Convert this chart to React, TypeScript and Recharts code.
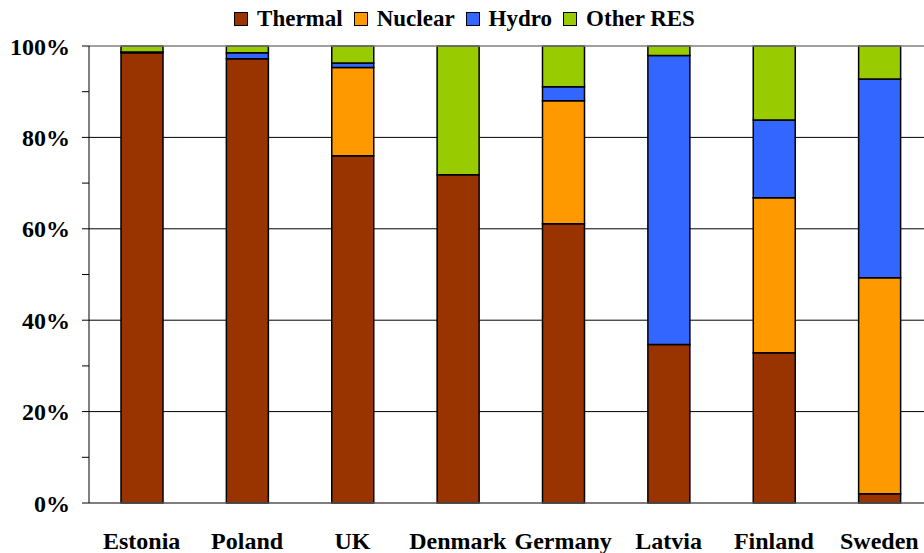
import React from "react";
import {
  BarChart,
  Bar,
  XAxis,
  YAxis,
  CartesianGrid,
  Legend,
  ReferenceLine,
} from "recharts";

const countries = ["Estonia", "Poland", "UK", "Denmark", "Germany", "Latvia", "Finland", "Sweden"];
const thermal = [98.5, 97.2, 76.0, 71.8, 61.1, 34.7, 32.9, 2.0];
const nuclear = [0, 0, 19.3, 0, 26.9, 0, 33.9, 47.3];
const hydro = [0.2, 1.3, 1.0, 0, 3.1, 63.2, 17.0, 43.5];
const otherRes = [1.3, 1.5, 3.7, 28.2, 8.9, 2.1, 16.2, 7.2];
const yTicks = [0, 10, 20, 30, 40, 50, 60, 70, 80, 90, 100];

const series = [
  { key: "thermal", name: "Thermal", color: "#993300" },
  { key: "nuclear", name: "Nuclear", color: "#FF9900" },
  { key: "hydro", name: "Hydro", color: "#3366FF" },
  { key: "other", name: "Other RES", color: "#99CC00" },
];

const data = countries.map((c, i) => ({
  country: c,
  thermal: thermal[i],
  nuclear: nuclear[i],
  hydro: hydro[i],
  other: otherRes[i],
}));

const font = "Liberation Serif, serif";

const renderLegend = () => (
  <div
    style={{
      height: 30,
      display: "flex",
      justifyContent: "center",
      alignItems: "center",
      fontFamily: font,
      fontWeight: "bold",
      fontSize: 23,
      color: "#000",
      paddingLeft: 8,
    }}
  >
    {series.map((s) => (
      <span key={s.key} style={{ display: "flex", alignItems: "center", marginRight: 11 }}>
        <span
          style={{
            display: "inline-block",
            width: 12,
            height: 12,
            background: s.color,
            border: "1px solid #000",
            marginRight: 9,
          }}
        />
        {s.name}
      </span>
    ))}
  </div>
);

// only every second tick gets a label, the rest are minor tick marks
const YTick = (props: any) => {
  const { x, y, payload } = props;
  if (payload.value % 20 !== 0) return null;
  return (
    <text
      x={x}
      y={y}
      dy="0.355em"
      textAnchor="end"
      fontFamily={font}
      fontWeight="bold"
      fontSize={24}
      fill="#000"
    >
      {payload.value}%
    </text>
  );
};

export default function App() {
  return (
    <div
      style={{
        position: "fixed",
        left: 0,
        top: 0,
        width: 924,
        height: 553,
        overflow: "hidden",
        background: "#fff",
      }}
    >
      <BarChart
        width={932}
        height={553}
        data={data}
        margin={{ top: 16, right: 0, left: 0, bottom: 0 }}
        barSize={42}
      >
        <CartesianGrid
          vertical={false}
          horizontalValues={[20, 40, 60, 80]}
          stroke="#000"
          strokeWidth={1}
        />
        <ReferenceLine y={100} stroke="#808080" strokeWidth={1.5} />
        <XAxis
          dataKey="country"
          height={50}
          tickSize={0}
          tickMargin={29}
          axisLine={{ stroke: "#555", strokeWidth: 1.5 }}
          tick={{ fontFamily: font, fontWeight: "bold", fontSize: 24, fill: "#000" }}
          interval={0}
        />
        <YAxis
          width={89}
          domain={[0, 100]}
          ticks={yTicks}
          tickSize={7}
          tickMargin={12}
          tickLine={{ stroke: "#000" }}
          axisLine={{ stroke: "#000" }}
          tick={<YTick />}
          interval={0}
        />
        <Legend verticalAlign="top" content={renderLegend} wrapperStyle={{ top: 4 }} />
        {series.map((s) => (
          <Bar
            key={s.key}
            dataKey={s.key}
            name={s.name}
            stackId="a"
            fill={s.color}
            stroke="#000"
            strokeWidth={1.5}
            isAnimationActive={false}
          />
        ))}
      </BarChart>
    </div>
  );
}
